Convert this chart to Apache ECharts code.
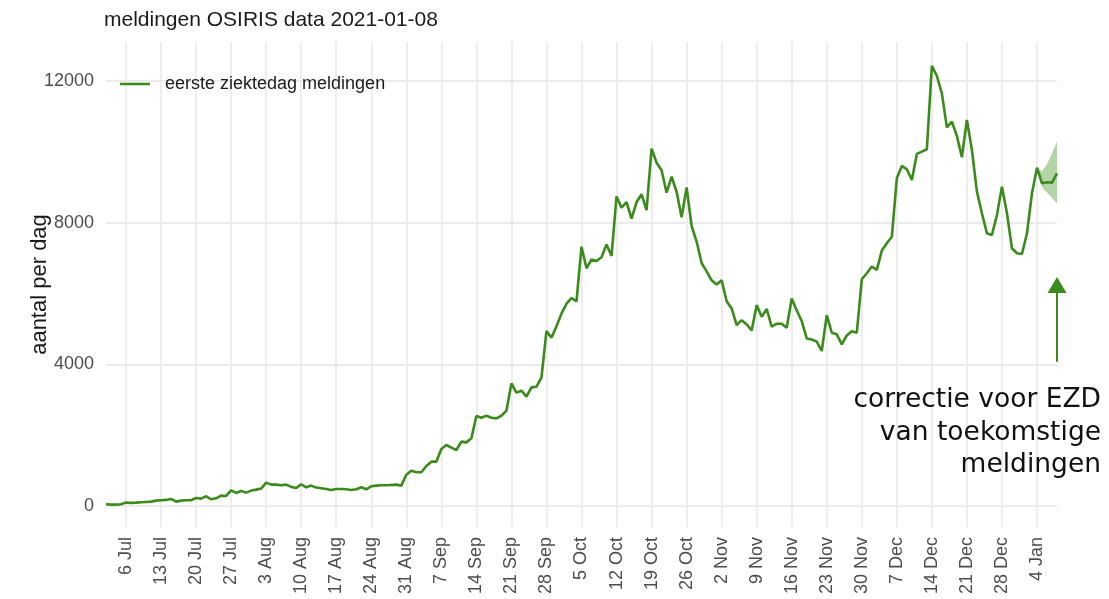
<!DOCTYPE html>
<html>
<head>
<meta charset="utf-8">
<script src="https://cdn.jsdelivr.net/npm/echarts/dist/echarts.min.js"></script>
<style>
html,body{margin:0;padding:0;background:#fff;}
#chart{width:1109px;height:599px;}
</style>
</head>
<body>
<div id="chart"></div>
<script>
// ---- data ----
const startDate = '2020-07-02';
const julValues = [47,38,38,47,94,85,94,104,113,122,150,160,170,198,122,150,160,160,226,207,273,188,216,292,282,442,367,423,376,433];
const augValues = [461,490,659,602,602,583,602,536,508,611,527,574,518,499,480,452,480,480,470,452,470,527,470,555,574,583,583,593,602,574,880];
const sepValues = [996,950,950,1128,1250,1250,1607,1720,1645,1580,1815,1795,1908,2538,2490,2547,2490,2472,2547,2690,3460,3200,3254,3085,3348,3367,3625,4935,4750,5075];
const octValues = [5430,5710,5870,5776,7320,6710,6960,6917,7020,7385,7057,8740,8420,8580,8115,8580,8800,8350,10090,9690,9480,8845,9295,8870,8150,8995,7905,7465,6860,6625,6370];
const novValues = [6250,6370,5780,5575,5105,5245,5125,4955,5670,5340,5565,5060,5145,5145,5030,5855,5520,5220,4730,4700,4640,4375,5385,4890,4845,4560,4815,4935,4890,6400];
const decValues = [6570,6760,6665,7210,7415,7600,9250,9600,9505,9205,9940,10005,10070,12430,12140,11650,10690,10850,10445,9845,10900,10050,8875,8265,7700,7650,8215,9015,8265,7275,7135];
const janValues = [7115,7700,8830,9550,9110,9140,9130,9390];

const bandDates = ['2021-01-04','2021-01-05','2021-01-06','2021-01-07','2021-01-08'];
const bandLow  = [9550, 9000, 8850, 8700, 8540];
const bandHigh = [9550, 9450, 9650, 9950, 10300];

const tickDates = ['2020-07-06','2020-07-13','2020-07-20','2020-07-27','2020-08-03','2020-08-10','2020-08-17','2020-08-24','2020-08-31',
  '2020-09-07','2020-09-14','2020-09-21','2020-09-28','2020-10-05','2020-10-12','2020-10-19','2020-10-26','2020-11-02','2020-11-09',
  '2020-11-16','2020-11-23','2020-11-30','2020-12-07','2020-12-14','2020-12-21','2020-12-28','2021-01-04'];
const tickLabels = ['6 Jul','13 Jul','20 Jul','27 Jul','3 Aug','10 Aug','17 Aug','24 Aug','31 Aug',
  '7 Sep','14 Sep','21 Sep','28 Sep','5 Oct','12 Oct','19 Oct','26 Oct','2 Nov','9 Nov',
  '16 Nov','23 Nov','30 Nov','7 Dec','14 Dec','21 Dec','28 Dec','4 Jan'];
const yTicks = [0, 4000, 8000, 12000];

const arrowDate = '2021-01-08';
const arrowFrom = 4070;
const arrowTo = 6240;

// ---- build the table the library needs ----
const values = [].concat(julValues, augValues, sepValues, octValues, novValues, decValues, janValues);
const categories = [];
(function(){
  const d = new Date(startDate + 'T12:00:00Z');
  for (let i = 0; i < values.length; i++) {
    categories.push(d.toISOString().slice(0,10));
    d.setUTCDate(d.getUTCDate() + 1);
  }
})();
const tickMap = {};
tickDates.forEach((t,i)=>{ tickMap[t] = tickLabels[i]; });
const lowSeries = categories.map(c => { const k = bandDates.indexOf(c); return k < 0 ? null : bandLow[k]; });
const diffSeries = categories.map(c => { const k = bandDates.indexOf(c); return k < 0 ? null : bandHigh[k] - bandLow[k]; });
const arrowIdx = categories.indexOf(arrowDate);

const green = '#3a8a1c';
const gridColor = '#ebebeb';
const chart = echarts.init(document.getElementById('chart'), null, {renderer:'canvas'});
chart.setOption({
  animation: false,
  backgroundColor: '#ffffff',
  textStyle: { fontFamily: '"Liberation Sans", Arial, sans-serif' },
  title: {
    text: 'meldingen OSIRIS data 2021-01-08',
    left: 104, top: 10, padding: 0,
    textStyle: { fontSize: 21, fontWeight: 'normal', color: '#1a1a1a', fontFamily: '"Liberation Sans", Arial, sans-serif' }
  },
  legend: {
    data: ['eerste ziektedag meldingen'],
    left: 120, top: 75, padding: 0,
    icon: 'rect', itemWidth: 30, itemHeight: 2.5,
    textStyle: { fontSize: 18, color: '#1a1a1a', padding: [0,0,0,10] }
  },
  grid: { left: 106, right: 52, top: 42, bottom: 72, containLabel: false },
  xAxis: {
    type: 'category',
    data: categories,
    boundaryGap: false,
    axisLine: { show: false },
    axisTick: { show: false },
    axisLabel: {
      rotate: 90, fontSize: 18, color: '#4d4d4d', margin: 10,
      interval: (i, v) => tickMap[v] !== undefined,
      formatter: v => tickMap[v] || ''
    },
    splitLine: { show: true, interval: (i, v) => tickMap[v] !== undefined, lineStyle: { color: gridColor, width: 1.8 } }
  },
  yAxis: {
    type: 'value',
    min: -595, max: 13100,
    name: 'aantal per dag',
    nameLocation: 'middle', nameGap: 55, nameRotate: 90, nameMoveOverlap: false,
    nameTextStyle: { fontSize: 22, color: '#1a1a1a' },
    axisLine: { show: false },
    axisTick: { show: false, customValues: yTicks },
    axisLabel: { customValues: yTicks, fontSize: 18, color: '#4d4d4d', margin: 12, formatter: v => String(v) },
    splitLine: { show: true, lineStyle: { color: gridColor, width: 1.8 } }
  },
  graphic: [{
    type: 'text', x: 1101, y: 384, silent: true, z: 100, zlevel: 0,
    style: {
      text: 'correctie voor EZD\nvan toekomstige\nmeldingen',
      font: '26.5px "DejaVu Sans"', fill: '#111111', align: 'right', verticalAlign: 'top', lineHeight: 32.5
    }
  }],
  series: [
    {
      name: 'band-low', type: 'line', stack: 'band', data: lowSeries,
      symbol: 'none', lineStyle: { opacity: 0 }, silent: true, z: 1
    },
    {
      name: 'band', type: 'line', stack: 'band', data: diffSeries,
      symbol: 'none', lineStyle: { opacity: 0 }, areaStyle: { color: 'rgba(61,140,25,0.55)' }, silent: true, z: 1
    },
    {
      name: 'eerste ziektedag meldingen', type: 'line', data: values,
      symbol: 'none', color: green, lineStyle: { color: green, width: 2.6 }, z: 3,
      markLine: {
        silent: true, symbol: ['none','triangle'], symbolSize: [19,16], animation: false,
        label: { show: false },
        lineStyle: { color: green, width: 2, type: 'solid' },
        data: [[ { coord: [arrowIdx, arrowFrom] }, { coord: [arrowIdx, arrowTo] } ]]
      }
    }
  ]
});
</script>
</body>
</html>
